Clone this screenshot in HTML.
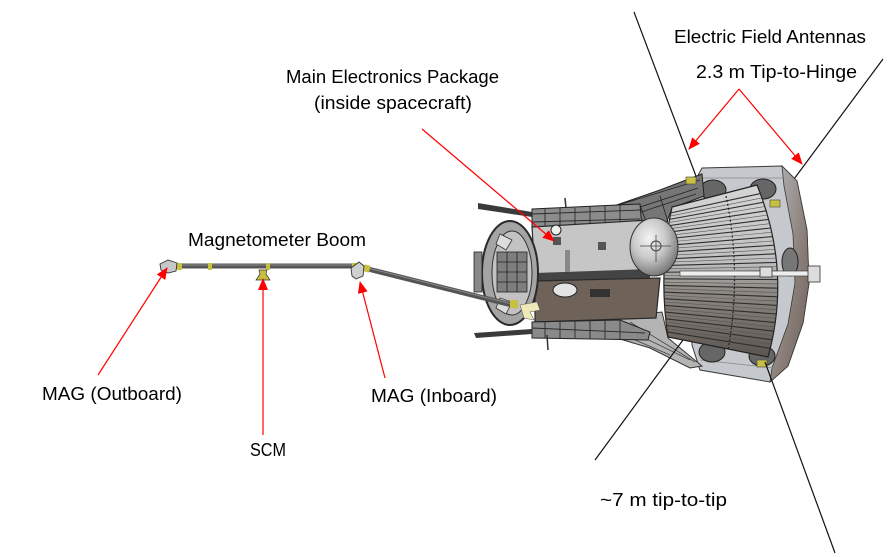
<!DOCTYPE html>
<html><head><meta charset="utf-8"><style>
html,body{margin:0;padding:0;background:#fff;}
svg{display:block;}
text{font-family:"Liberation Sans","DejaVu Sans",sans-serif;font-size:18px;fill:#000;}
</style></head><body>
<svg width="892" height="557" viewBox="0 0 892 557" xmlns="http://www.w3.org/2000/svg">
<defs>
<marker id="ah" viewBox="0 0 12 10" refX="11" refY="5" markerWidth="12" markerHeight="10" markerUnits="userSpaceOnUse" orient="auto">
<path d="M0,0 L12,5 L0,10 Z" fill="#ff0000"/>
</marker>
<linearGradient id="rad" x1="0" y1="0" x2="0" y2="1">
<stop offset="0" stop-color="#d6d6d6"/><stop offset="0.45" stop-color="#c0c0c0"/><stop offset="0.6" stop-color="#918c87"/><stop offset="1" stop-color="#5c544e"/>
</linearGradient>
<radialGradient id="dish" cx="0.4" cy="0.35" r="0.7">
<stop offset="0" stop-color="#f4f4f4"/><stop offset="0.5" stop-color="#c8c8c8"/><stop offset="1" stop-color="#6e6e6e"/>
</radialGradient>
<linearGradient id="rim" x1="0" y1="0" x2="1" y2="1">
<stop offset="0" stop-color="#b8b8bc"/><stop offset="0.6" stop-color="#8a7f78"/><stop offset="1" stop-color="#6a5e58"/>
</linearGradient>
<clipPath id="radclip"><path d="M672,207 L757,185 Q792,271 768,357 L668,337 Q658,272 672,207 Z"/></clipPath>
</defs>

<!-- antennas (behind) -->
<line x1="634" y1="12" x2="702" y2="192" stroke="#111" stroke-width="1.2"/>
<line x1="883" y1="59" x2="774" y2="206" stroke="#111" stroke-width="1.2"/>

<!-- TPS shield -->
<polygon points="702,168 782,166 797,181 807,230 809,283 803,323 788,366 770,382 700,370 692,345 690,190" fill="#c5c8cc" stroke="#3a3a3a" stroke-width="1"/>
<polygon points="782,166 797,181 807,230 809,283 803,323 788,366 770,382 772,368 788,324 795,283 793,234 784,186" fill="url(#rim)" stroke="#3a3a3a" stroke-width="0.8"/>
<polyline points="702,178 784,178" fill="none" stroke="#888" stroke-width="0.8"/>
<polyline points="700,360 775,368" fill="none" stroke="#888" stroke-width="0.8"/>
<ellipse cx="713" cy="190" rx="13" ry="10" fill="#666" stroke="#222"/>
<ellipse cx="763" cy="189" rx="13" ry="10" fill="#666" stroke="#222"/>
<ellipse cx="712" cy="352" rx="13" ry="10" fill="#666" stroke="#222"/>
<ellipse cx="762" cy="356" rx="13" ry="10" fill="#666" stroke="#222"/>
<ellipse cx="790" cy="262" rx="8" ry="14" fill="#777" stroke="#222"/>

<!-- cone connection -->
<polygon points="608,208 660,190 702,174 704,196 672,208 662,235 628,236" fill="#767676" stroke="#222" stroke-width="1"/>
<path d="M615,206 L700,180 M625,212 L698,188 M635,214 L696,194 M640,205 L650,232 M660,196 L668,222" stroke="#222" stroke-width="0.8" fill="none"/>
<polygon points="612,318 662,312 668,338 702,366 690,368 650,348 610,336" fill="#b4b4b4" stroke="#333" stroke-width="1"/>
<path d="M620,326 L690,360 M630,322 L695,362 M612,330 L670,355" stroke="#444" stroke-width="0.8" fill="none"/>

<!-- radiator -->
<path d="M672,207 L757,185 Q792,271 768,357 L668,337 Q658,272 672,207 Z" fill="url(#rad)" stroke="#222" stroke-width="1.2"/>
<g clip-path="url(#radclip)">
<g stroke="#2e2e2e" stroke-width="1.1" fill="none">
<line x1="668" y1="213.5" x2="760.4" y2="193.6"/>
<line x1="666" y1="220.0" x2="763.4" y2="202.2"/>
<line x1="664" y1="226.5" x2="766.2" y2="210.8"/>
<line x1="662" y1="233.0" x2="768.6" y2="219.4"/>
<line x1="660" y1="239.6" x2="770.8" y2="228.0"/>
<line x1="660" y1="246.1" x2="772.7" y2="236.6"/>
<line x1="660" y1="252.6" x2="774.3" y2="245.2"/>
<line x1="660" y1="259.2" x2="775.6" y2="253.8"/>
<line x1="660" y1="265.7" x2="776.6" y2="262.4"/>
<line x1="660" y1="272.3" x2="777.3" y2="271.0"/>
<line x1="660" y1="278.8" x2="777.7" y2="279.6"/>
<line x1="660" y1="285.4" x2="777.8" y2="288.2"/>
<line x1="660" y1="291.9" x2="777.6" y2="296.8"/>
<line x1="660" y1="298.5" x2="777.1" y2="305.4"/>
<line x1="660" y1="305.0" x2="776.3" y2="314.0"/>
<line x1="660" y1="311.6" x2="775.2" y2="322.6"/>
<line x1="660" y1="318.2" x2="773.9" y2="331.2"/>
<line x1="662" y1="324.8" x2="772.2" y2="339.8"/>
<line x1="664" y1="331.4" x2="770.3" y2="348.4"/>
</g>
<g stroke="#555" stroke-width="0.6" fill="none">
<line x1="667" y1="216.7" x2="761.9" y2="197.9"/>
<line x1="665" y1="223.2" x2="764.8" y2="206.5"/>
<line x1="663" y1="229.7" x2="767.4" y2="215.1"/>
<line x1="661" y1="236.3" x2="769.7" y2="223.7"/>
<line x1="660" y1="242.8" x2="771.7" y2="232.3"/>
<line x1="660" y1="249.3" x2="773.5" y2="240.9"/>
<line x1="660" y1="255.9" x2="775.0" y2="249.5"/>
<line x1="660" y1="262.4" x2="776.1" y2="258.1"/>
<line x1="660" y1="269.0" x2="776.9" y2="266.7"/>
<line x1="660" y1="275.5" x2="777.5" y2="275.3"/>
<line x1="660" y1="282.1" x2="777.7" y2="283.9"/>
<line x1="660" y1="288.6" x2="777.7" y2="292.5"/>
<line x1="660" y1="295.2" x2="777.3" y2="301.1"/>
<line x1="660" y1="301.7" x2="776.7" y2="309.7"/>
<line x1="660" y1="308.3" x2="775.7" y2="318.3"/>
<line x1="660" y1="314.9" x2="774.5" y2="326.9"/>
<line x1="661" y1="321.5" x2="773.0" y2="335.5"/>
<line x1="663" y1="328.1" x2="771.2" y2="344.1"/>
</g>
</g>
<path d="M726,196 Q742,272 728,350" stroke="#222" stroke-width="1.2" stroke-dasharray="2,2" fill="none"/>
<!-- strut -->
<rect x="680" y="271" width="132" height="5" fill="#eee" stroke="#444" stroke-width="0.7"/>
<rect x="760" y="267" width="12" height="10" fill="#ddd" stroke="#333" stroke-width="0.8"/>
<rect x="808" y="266" width="12" height="16" fill="#ddd" stroke="#333" stroke-width="0.8"/>
<!-- antenna clamps -->
<rect x="686" y="177" width="10" height="7" fill="#c8c040" stroke="#444" stroke-width="0.6"/>
<rect x="770" y="200" width="10" height="7" fill="#c8c040" stroke="#444" stroke-width="0.6"/>
<rect x="757" y="360" width="10" height="7" fill="#c8c040" stroke="#444" stroke-width="0.6"/>

<!-- bus -->
<polygon points="478,203 532,212 532,217 478,209" fill="#3a3a3a"/>
<polygon points="532,209 640,204 642,228 532,229" fill="#8c8c8c" stroke="#222" stroke-width="1"/>
<path d="M532,214 L640,210 M532,222 L640,219 M545,209 L545,229 M560,208 L560,229 M575,208 L575,229 M590,207 L590,229 M605,206 L605,229 M620,205 L620,228" stroke="#2a2a2a" stroke-width="0.9" fill="none"/>
<polygon points="532,227 650,220 655,270 535,275" fill="#c6c6c6" stroke="#2a2a2a" stroke-width="1.2"/>
<polygon points="535,273 650,269 650,279 535,281" fill="#444"/>
<polygon points="535,281 660,278 656,318 535,322" fill="#6e6259" stroke="#2a2a2a" stroke-width="1.2"/>
<ellipse cx="565" cy="290" rx="12" ry="7" fill="#e4e4e4" stroke="#222"/>
<rect x="590" y="289" width="20" height="8" fill="#333"/>
<rect x="553" y="237" width="8" height="8" fill="#555"/>
<rect x="598" y="242" width="8" height="8" fill="#555"/>
<rect x="565" y="250" width="5" height="22" fill="#888"/>
<circle cx="556" cy="230" r="5" fill="#eee" stroke="#222"/>
<polygon points="532,322 620,320 650,332 648,340 532,338" fill="#8a8a8a" stroke="#222" stroke-width="1"/>
<path d="M532,328 L645,333 M545,322 L545,338 M560,322 L560,338 M575,321 L575,338 M590,321 L590,339 M605,321 L605,339 M620,321 L620,339" stroke="#2a2a2a" stroke-width="0.9" fill="none"/>
<polygon points="474,333 532,329 532,334 476,338" fill="#3a3a3a"/>
<line x1="547" y1="335" x2="548" y2="350" stroke="#333" stroke-width="1.5"/>
<line x1="565" y1="198" x2="566" y2="208" stroke="#333" stroke-width="1.5"/>
<!-- left ring -->
<ellipse cx="510" cy="273" rx="28" ry="52" fill="#a4a4a4" stroke="#2a2a2a" stroke-width="2"/>
<ellipse cx="512" cy="273" rx="20" ry="42" fill="#c2c2c2" stroke="#333" stroke-width="1"/>
<rect x="497" y="252" width="30" height="40" fill="#7e7e7e" stroke="#222" stroke-width="0.8"/>
<path d="M497,262 H527 M497,272 H527 M497,282 H527 M507,252 V292 M517,252 V292" stroke="#222" stroke-width="0.8"/>
<polygon points="500,234 512,240 506,250 496,244" fill="#ddd" stroke="#333" stroke-width="0.8"/>
<polygon points="500,298 512,302 506,314 496,308" fill="#ddd" stroke="#333" stroke-width="0.8"/>
<rect x="474" y="252" width="8" height="40" fill="#888" stroke="#222" stroke-width="0.8"/>

<!-- dish -->
<ellipse cx="654" cy="247" rx="24" ry="29" fill="url(#dish)" stroke="#333" stroke-width="1"/>
<circle cx="656" cy="246" r="5" fill="none" stroke="#444" stroke-width="1"/>
<path d="M640,246 H671 M656,235 V262" stroke="#444" stroke-width="0.8"/>

<!-- lower antennas -->
<line x1="683" y1="340" x2="595" y2="460" stroke="#111" stroke-width="1.2"/>
<line x1="765" y1="362" x2="835" y2="553" stroke="#111" stroke-width="1.2"/>

<!-- boom -->
<line x1="168" y1="266" x2="360" y2="266" stroke="#555" stroke-width="5"/>
<line x1="168" y1="265" x2="360" y2="265" stroke="#8a8a8a" stroke-width="1"/>
<line x1="360" y1="267" x2="516" y2="306" stroke="#555" stroke-width="5"/>
<line x1="360" y1="266" x2="516" y2="305" stroke="#8a8a8a" stroke-width="1"/>
<rect x="177" y="263" width="5" height="7" fill="#c8c040"/>
<rect x="208" y="263" width="4" height="7" fill="#c8c040"/>
<rect x="266" y="263" width="4" height="7" fill="#c8c040"/>
<rect x="352" y="263" width="5" height="7" fill="#c8c040"/>
<rect x="364" y="265" width="6" height="7" fill="#c8c040" transform="rotate(14 367 268)"/>
<polygon points="160,264 168,260 177,263 176,271 168,273 161,270" fill="#c8c8c8" stroke="#333" stroke-width="0.9"/>
<polygon points="259,270 267,270 266,274 270,280 256,280 260,274" fill="#c8c040" stroke="#333" stroke-width="0.7"/>
<polygon points="351,268 359,262 364,266 363,276 356,279 352,276" fill="#cfcfcf" stroke="#333" stroke-width="0.9"/>
<rect x="510" y="300" width="8" height="8" fill="#c8c040"/>
<polygon points="520,305 537,302 540,310 530,312 534,320 524,318" fill="#efe8b8" stroke="#666" stroke-width="0.6"/>

<!-- red arrows -->
<g stroke="#ff0000" stroke-width="1.2" fill="none">
<line x1="422" y1="129" x2="554" y2="241" marker-end="url(#ah)"/>
<line x1="739" y1="89" x2="689" y2="149" marker-end="url(#ah)"/>
<line x1="739" y1="89" x2="802" y2="164" marker-end="url(#ah)"/>
<line x1="98" y1="375" x2="167" y2="268" marker-end="url(#ah)"/>
<line x1="263" y1="435" x2="263" y2="279" marker-end="url(#ah)"/>
<line x1="385" y1="378" x2="360" y2="282" marker-end="url(#ah)"/>
</g>

<!-- labels -->
<text x="674" y="43" textLength="192" lengthAdjust="spacingAndGlyphs">Electric Field Antennas</text>
<text x="696" y="78" textLength="161" lengthAdjust="spacingAndGlyphs">2.3 m Tip-to-Hinge</text>
<text x="286" y="83" textLength="213" lengthAdjust="spacingAndGlyphs">Main Electronics Package</text>
<text x="314" y="109" textLength="158" lengthAdjust="spacingAndGlyphs">(inside spacecraft)</text>
<text x="188" y="246" textLength="178" lengthAdjust="spacingAndGlyphs">Magnetometer Boom</text>
<text x="42" y="400" textLength="140" lengthAdjust="spacingAndGlyphs">MAG (Outboard)</text>
<text x="250" y="456" textLength="36" lengthAdjust="spacingAndGlyphs">SCM</text>
<text x="371" y="402" textLength="126" lengthAdjust="spacingAndGlyphs">MAG (Inboard)</text>
<text x="600" y="506" textLength="127" lengthAdjust="spacingAndGlyphs">~7 m tip-to-tip</text>
</svg>
</body></html>
